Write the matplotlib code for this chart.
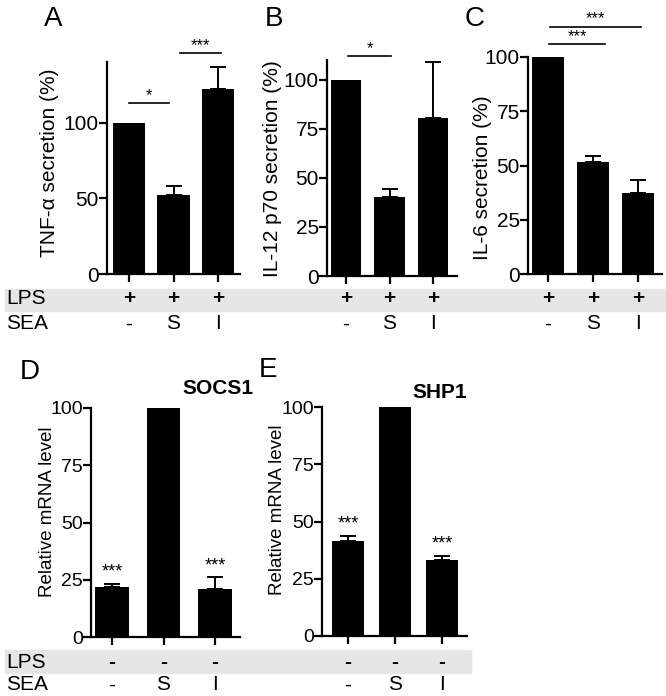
import matplotlib
matplotlib.use("Agg")
import numpy as np
from matplotlib import pyplot as plt
from matplotlib.patches import Rectangle
from matplotlib.transforms import blended_transform_factory

plt.rcParams['font.family'] = ['Liberation Sans', 'DejaVu Sans']

# data
tnf = [100, 52, 122]
tnf_err = [0, 6, 15]
il12 = [100, 40, 80.5]
il12_err = [0, 4.5, 28.5]
il6 = [100, 51.8, 37.3]
il6_err = [0, 2.6, 6]
socs1 = [22, 100, 21]
socs1_err = [1, 0, 5]
shp1 = [41.5, 100, 33]
shp1_err = [2, 0, 2]

lps_top = ['+', '+', '+']
sea_top = ['-', 'S', 'I']
lps_bot = ['-', '-', '-']
sea_bot = ['-', 'S', 'I']

W, H = 666, 696
fig = plt.figure(figsize=(W / 100, H / 100), dpi=100)


def fx(x):
    return x / W


def fy(y):
    return 1 - y / H


def make_ax(x0, x1, ytop, ybot, t0, t2, ymax, yticks, fs):
    ax = fig.add_axes([fx(x0), fy(ybot), (x1 - x0) / W, (ybot - ytop) / H])
    s = (t2 - t0) / 2
    ax.set_xlim((x0 - t0) / s, (x1 - t0) / s)
    ax.set_ylim(0, ymax)
    ax.set_yticks(yticks)
    ax.set_xticks([0, 1, 2])
    ax.set_xticklabels([])
    for side in ['top', 'right']:
        ax.spines[side].set_visible(False)
    for side in ['left', 'bottom']:
        ax.spines[side].set_linewidth(1.6)
    ax.tick_params(axis='both', direction='out', length=5.5, width=1.6, labelsize=fs, pad=0.5)
    ax.set_facecolor('none')
    return ax


def bars(ax, vals, errs, width=0.7):
    x = np.arange(len(vals))
    ax.bar(x, vals, width=width, color='black', zorder=2)
    idx = [i for i in range(len(vals)) if errs[i] > 0]
    ax.errorbar([x[i] for i in idx], [vals[i] for i in idx],
                yerr=[[0] * len(idx), [errs[i] for i in idx]],
                fmt='none', ecolor='black', elinewidth=1.4, capsize=5.5, capthick=1.4, zorder=3)


def sig(ax, x0, x1, y, txt, fs=12):
    ax.plot([x0, x1], [y, y], color='black', lw=1.2, clip_on=False)
    ax.text((x0 + x1) / 2, y, txt, ha='center', va='bottom', fontsize=fs, clip_on=False)


def rows(ax, lps, sea, y_lps, y_sea, fs):
    tr = blended_transform_factory(ax.transData, fig.transFigure)
    for i in range(3):
        ax.text(i, fy(y_lps), lps[i], transform=tr, ha='center', va='center',
                fontsize=fs, fontweight='bold', zorder=5)
        ax.text(i, fy(y_sea), sea[i], transform=tr, ha='center', va='center', fontsize=fs)


# grey bands behind LPS row
fig.patches.append(Rectangle((fx(5), fy(311)), fx(666) - fx(5), (311 - 289) / H,
                             transform=fig.transFigure, color='#e6e6e6', zorder=-5))
fig.patches.append(Rectangle((fx(5), fy(673)), fx(471) - fx(5), (673 - 650) / H,
                             transform=fig.transFigure, color='#e6e6e6', zorder=-5))

fs_top = 15
fs_bot = 14

# A
axA = make_ax(107, 240, 62, 274, 129, 218, 140, [0, 50, 100], fs_top)
bars(axA, tnf, tnf_err, 0.72)
axA.set_ylabel('TNF-α secretion (%)', fontsize=fs_top, va='center')
axA.yaxis.set_label_coords(fx(50), fy(163), transform=fig.transFigure)
sig(axA, 0.0, 0.9, 113, '*')
sig(axA, 1.15, 2.07, 146, '***')
rows(axA, lps_top, sea_top, 299, 324, fs_top)

# B
axB = make_ax(327, 457, 60, 276, 346, 433, 110, [0, 25, 50, 75, 100], fs_top)
bars(axB, il12, il12_err, 0.69)
axB.set_ylabel('IL-12 p70 secretion (%)', fontsize=fs_top, va='center')
axB.yaxis.set_label_coords(fx(273), fy(169), transform=fig.transFigure)
sig(axB, 0.05, 1.03, 112, '*')
rows(axB, lps_top, sea_top, 299, 324, fs_top)

# C
axC = make_ax(528, 662, 57, 274, 548, 638, 100, [0, 25, 50, 75, 100], fs_top)
bars(axC, il6, il6_err, 0.7)
axC.set_ylabel('IL-6 secretion (%)', fontsize=fs_top, va='center')
axC.yaxis.set_label_coords(fx(483), fy(178), transform=fig.transFigure)
sig(axC, 0.04, 2.07, 114, '***')
sig(axC, 0.02, 1.27, 106, '***')
rows(axC, lps_top, sea_top, 299, 324, fs_top)

# D
axD = make_ax(91, 240, 408, 637, 112, 215, 100, [0, 25, 50, 75, 100], fs_bot)
bars(axD, socs1, socs1_err, 0.66)
axD.set_ylabel('Relative mRNA level', fontsize=13.5, va='center')
axD.yaxis.set_label_coords(fx(47), fy(512), transform=fig.transFigure)
for i in [0, 2]:
    axD.text(i, socs1[i] + socs1_err[i] + 1.5, '***', ha='center', va='bottom', fontsize=13)
fig.text(fx(218), fy(389), 'SOCS1', ha='center', va='center', fontsize=15, fontweight='bold')
rows(axD, lps_bot, sea_bot, 662, 685, fs_top)

# E
axE = make_ax(322, 467, 407, 636, 348, 442, 100, [0, 25, 50, 75, 100], fs_bot)
bars(axE, shp1, shp1_err, 0.7)
axE.set_ylabel('Relative mRNA level', fontsize=13.5, va='center')
axE.yaxis.set_label_coords(fx(278), fy(510), transform=fig.transFigure)
for i in [0, 2]:
    axE.text(i, shp1[i] + shp1_err[i] + 1.5, '***', ha='center', va='bottom', fontsize=13)
fig.text(fx(440), fy(392), 'SHP1', ha='center', va='center', fontsize=15, fontweight='bold')
rows(axE, lps_bot, sea_bot, 662, 685, fs_top)

# row labels
for y_lps, y_sea in [(299, 324), (662, 685)]:
    fig.text(fx(6), fy(y_lps), 'LPS', ha='left', va='center', fontsize=fs_top)
    fig.text(fx(6), fy(y_sea), 'SEA', ha='left', va='center', fontsize=fs_top)

# panel letters
for lab, x, y in [('A', 53, 19), ('B', 274, 19), ('C', 475, 19), ('D', 30, 372), ('E', 268, 370)]:
    fig.text(fx(x), fy(y), lab, ha='center', va='center', fontsize=20)

fig.savefig('out.png', dpi=100)
